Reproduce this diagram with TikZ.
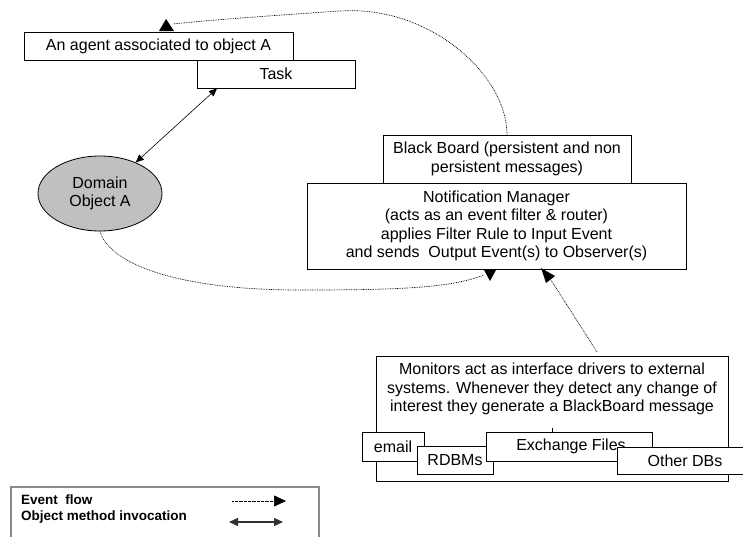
\documentclass[tikz,border=0pt]{standalone}
\usepackage{fontspec}
\setmainfont{Liberation Sans}
\usetikzlibrary{arrows.meta,shapes.geometric}
\definecolor{ellgrey}{HTML}{C0C0C0}
\definecolor{legendgrey}{HTML}{8A8A8A}
\definecolor{calldark}{HTML}{303030}
\begin{document}
\begin{tikzpicture}[x=1pt,y=-1pt,
  lbl/.style={font=\fontsize{16}{18.5}\selectfont},
  box/.style={lbl, draw=black, line width=0.8pt, fill=white, inner sep=0pt, align=center},
  evline/.style={line width=0.7pt, dash pattern=on 0.8pt off 0.9pt},
  evhead/.style={fill=black},
  callline/.style={line width=0.6pt, {Triangle[length=8pt,width=7pt]}-{Triangle[length=8pt,width=7pt]}},
]
\useasboundingbox (0,0) rectangle (743,536);
\clip (0,0) rectangle (743,536);

% agent and its task
\node[box, minimum width=269pt, minimum height=28pt] (agent) at (158.5,46) {An agent associated to object A};
\node[box, minimum width=158pt, minimum height=28pt] (task) at (276,74) {Task};

% domain object
\node[ellipse, draw=black, line width=0.8pt, fill=ellgrey, minimum width=124pt, minimum height=75pt,
      inner sep=0pt, align=center, lbl] (dom) at (100,193.5) {Domain\\Object A};

% black board and notification manager
\node[box, minimum width=248pt, minimum height=48pt] (bb) at (507,159)
  {Black Board (persistent and non\\persistent messages)};
\node[box, minimum width=379pt, minimum height=86pt] (nm) at (496.5,226)
  {Notification Manager\\(acts as an event filter \& router)\\applies Filter Rule to Input Event\\and sends\ \ Output Event(s) to Observer(s)};

% monitors and the external systems
\node[box, minimum width=352pt, minimum height=125pt] (mon) at (552,418.5) {};
\node[lbl, align=center, inner sep=0pt] (montext) at (552,389)
  {Monitors act as interface drivers to external\\systems. Whenever they detect any change of\\interest they generate a BlackBoard message};
\draw[line width=0.6pt] (552,428) -- (552,432);
\node[box, minimum width=62pt, minimum height=29pt] (email) at (393,446.5) {email};
\node[box, minimum width=76pt, minimum height=28pt] (rdbms) at (455,460) {RDBMs};
\node[box, minimum width=166pt, minimum height=29pt] (xfiles) at (569,446.5) {\hspace*{4pt}Exchange Files};
\node[box, minimum width=136pt, minimum height=27pt] (otherdb) at (685,460.5) {Other DBs};

% object method invocation
\draw[callline] (dom.41) -- ([xshift=-59pt]task.south);

% event flows
\coordinate (agentin) at (173,24);
\draw[evline] (bb.north) .. controls (507,75) and (430,5) .. (340,11)
  .. controls (280,15) and (210,20) .. (agentin);
\fill[evhead] (159,31) -- (166,19) -- (174,31) -- cycle;

\coordinate (nmin1) at (484,275);
\draw[evline] (dom.south) .. controls (110,265) and (180,290) .. (300,290)
  .. controls (400,290) and (450,288) .. (nmin1);
\fill[evhead] (484,270) -- (496,270) -- (490,281) -- cycle;

\coordinate (monout) at (597,352);
\coordinate (nmin2) at (551,280);
\draw[evline] (monout) -- (nmin2);
\fill[evhead] (541,268) -- (555,276) -- (546,283) -- cycle;

% legend
\draw[draw=legendgrey, line width=1.2pt] (11,487) rectangle (319,560);
\node[anchor=west, align=left, inner sep=0pt, font=\fontsize{13.5}{16}\selectfont\bfseries] (legtext) at (21,509)
  {Event\ \ flow\\Object method invocation};
\coordinate (ev1) at (232,501);
\coordinate (ev2) at (286,501);
\draw[line width=0.6pt, dash pattern=on 0.6pt off 0.7pt, -{Triangle[length=12pt,width=11pt]}] (ev1) -- (ev2);
\coordinate (om1) at (229,522);
\coordinate (om2) at (283,522);
\draw[line width=1.4pt, draw=calldark, {Triangle[length=9pt,width=8pt]}-{Triangle[length=9pt,width=8pt]}] (om1) -- (om2);
\end{tikzpicture}
\end{document}
